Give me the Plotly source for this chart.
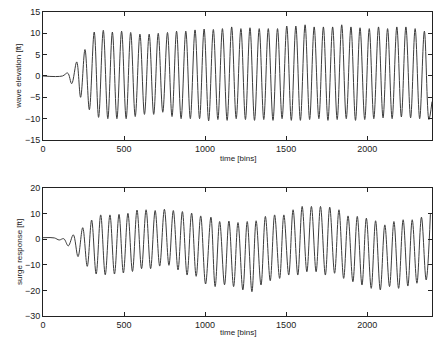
import plotly.graph_objects as go

# ---- data (extrema of each trace) ----
wave_start_t = [0, 120, 152, 177, 208, 232, 259, 286]
wave_start_v = [0, 0, 0.7, -1.8, 3.3, -5.0, 6.2, -7.9]

wave_peak_t = [316, 372, 428, 485, 541, 598, 655, 711, 768, 824, 881, 938, 994, 1051,
               1107, 1164, 1221, 1277, 1334, 1390, 1447, 1504, 1560, 1617, 1673, 1730,
               1787, 1843, 1900, 1956, 2013, 2070, 2126, 2183, 2239, 2296, 2353]
wave_peak_v = [10.3, 10.7, 10.3, 10.5, 10.2, 9.8, 9.8, 10.0, 10.2, 10.5, 10.5, 10.8, 11.0, 10.9,
               11.1, 11.5, 11.1, 11.3, 11.1, 11.1, 11.1, 11.7, 11.7, 12.0, 11.5, 11.5,
               11.5, 12.0, 11.5, 11.3, 11.1, 11.5, 11.1, 11.5, 11.5, 11.1, 10.5]
wave_trough_t = [343, 400, 456, 513, 569, 626, 683, 739, 796, 852, 909, 966, 1022,
                 1079, 1136, 1192, 1249, 1305, 1362, 1419, 1475, 1532, 1588, 1645, 1702,
                 1758, 1815, 1871, 1928, 1985, 2041, 2098, 2154, 2211, 2268, 2324, 2381]
wave_trough_v = [-9.7, -10.0, -10.0, -10.0, -9.5, -9.0, -9.0, -8.5, -9.5, -10.0, -10.0, -10.0, -10.5,
                 -10.2, -10.4, -10.0, -10.2, -10.4, -10.2, -10.4, -10.0, -10.4, -10.4, -10.2, -10.0,
                 -10.4, -10.2, -10.0, -10.4, -10.2, -10.0, -9.8, -10.0, -9.6, -9.8, -10.0, -10.2]
wave_end_t = [2400]
wave_end_v = [-6.0]

surge_start_t = [0, 70, 100, 128, 156]
surge_start_v = [0.6, 0.5, -0.3, 0.2, -2.6]

surge_peak_t = [187, 245, 300, 356, 413, 469, 524, 580, 636, 692, 749, 804, 860, 917, 973,
                1036, 1090, 1147, 1203, 1260, 1315, 1372, 1429, 1486, 1543, 1599, 1656,
                1712, 1769, 1826, 1882, 1939, 1995, 2052, 2109, 2165, 2222, 2278, 2335, 2390]
surge_peak_v = [1.7, 4.5, 7.5, 9.5, 9.5, 9.7, 10.1, 11.4, 11.5, 11.2, 11.7, 11.2, 10.8, 10.2, 9.1,
                8.6, 6.9, 7.1, 6.5, 6.9, 7.2, 8.9, 9.5, 9.5, 11.5, 12.8, 12.8,
                12.8, 12.5, 11.5, 9.1, 8.9, 8.2, 7.2, 5.6, 6.9, 7.6, 7.6, 8.6, 9.8]
surge_trough_t = [216, 273, 328, 384, 441, 496, 552, 608, 664, 720, 777, 833, 889, 945,
                  1003, 1062, 1120, 1176, 1233, 1289, 1345, 1402, 1460, 1516, 1572, 1628,
                  1685, 1742, 1799, 1855, 1912, 1968, 2025, 2081, 2138, 2194, 2251, 2307, 2364]
surge_trough_v = [-6.8, -10.6, -13.6, -13.9, -13.6, -13.2, -12.6, -11.5, -11.5, -10.5, -10.2, -12.0, -14.0, -14.5,
                  -17.5, -18.5, -17.8, -18.5, -19.8, -20.5, -17.9, -16.2, -15.3, -14.0, -14.0, -12.7,
                  -12.7, -14.0, -13.3, -15.3, -16.6, -17.9, -19.2, -19.8, -18.5, -19.2, -18.3, -17.2, -15.9]

x_ticks = [0, 500, 1000, 1500, 2000]
wave_ticks = [-15, -10, -5, 0, 5, 10, 15]
surge_ticks = [-30, -20, -10, 0, 10, 20]

x_title = "time [bins]"
wave_title = "wave elevation [ft]"
surge_title = "surge response [ft]"


def merge(*pairs):
    pts = []
    for t, v in pairs:
        pts.extend(zip(t, v))
    pts.sort()
    return [p[0] for p in pts], [p[1] for p in pts]


wt, wv = merge((wave_start_t, wave_start_v), (wave_peak_t, wave_peak_v),
               (wave_trough_t, wave_trough_v), (wave_end_t, wave_end_v))
st, sv = merge((surge_start_t, surge_start_v), (surge_peak_t, surge_peak_v),
               (surge_trough_t, surge_trough_v))

line_style = dict(color="#3c3c3c", width=1.0, shape="spline", smoothing=1.0)

fig = go.Figure()
fig.add_trace(go.Scatter(x=wt, y=wv, mode="lines", line=line_style, xaxis="x", yaxis="y",
                         showlegend=False, hoverinfo="skip"))
fig.add_trace(go.Scatter(x=st, y=sv, mode="lines", line=line_style, xaxis="x2", yaxis="y2",
                         showlegend=False, hoverinfo="skip"))

FAM = "Liberation Sans, Arial, sans-serif"
font_tick = dict(family=FAM, size=9, color="#222")
font_title = dict(family=FAM, size=8, color="#222")

ax_common = dict(showline=True, linecolor="#222", linewidth=1, mirror="ticks",
                 ticks="inside", ticklen=4, tickcolor="#222", showgrid=False,
                 zeroline=False, tickfont=font_tick, automargin=False)

# plot area: left 43, right 432, top 12, bottom 316 (px)
fig.update_layout(
    template="none",
    width=436, height=338,
    margin=dict(l=43, r=4, t=12, b=22, pad=0),
    paper_bgcolor="white", plot_bgcolor="white",
    hovermode=False,
    xaxis=dict(domain=[0, 1], range=[0, 2400], tickvals=x_ticks, anchor="y", **ax_common),
    yaxis=dict(domain=[0.579, 1.0], range=[-15, 15], tickvals=wave_ticks, anchor="x", **ax_common),
    xaxis2=dict(domain=[0, 1], range=[0, 2400], tickvals=x_ticks, anchor="y2", **ax_common),
    yaxis2=dict(domain=[0, 0.421], range=[-30, 20], tickvals=surge_ticks, anchor="x2", **ax_common),
)

ann = dict(xref="paper", yref="paper", showarrow=False, font=font_title)
fig.add_annotation(text=x_title, x=0.5, y=0.518, xanchor="center", yanchor="middle", **ann)
fig.add_annotation(text=x_title, x=0.5, y=-0.055, xanchor="center", yanchor="middle", **ann)
fig.add_annotation(text=wave_title, x=-0.062, y=0.79, textangle=-90,
                   xanchor="center", yanchor="middle", **ann)
fig.add_annotation(text=surge_title, x=-0.062, y=0.21, textangle=-90,
                   xanchor="center", yanchor="middle", **ann)

fig.write_html(
    "out.html",
    config={"displayModeBar": False, "staticPlot": True},
    post_script="document.body.style.margin='0';document.body.style.overflow='hidden';",
)
